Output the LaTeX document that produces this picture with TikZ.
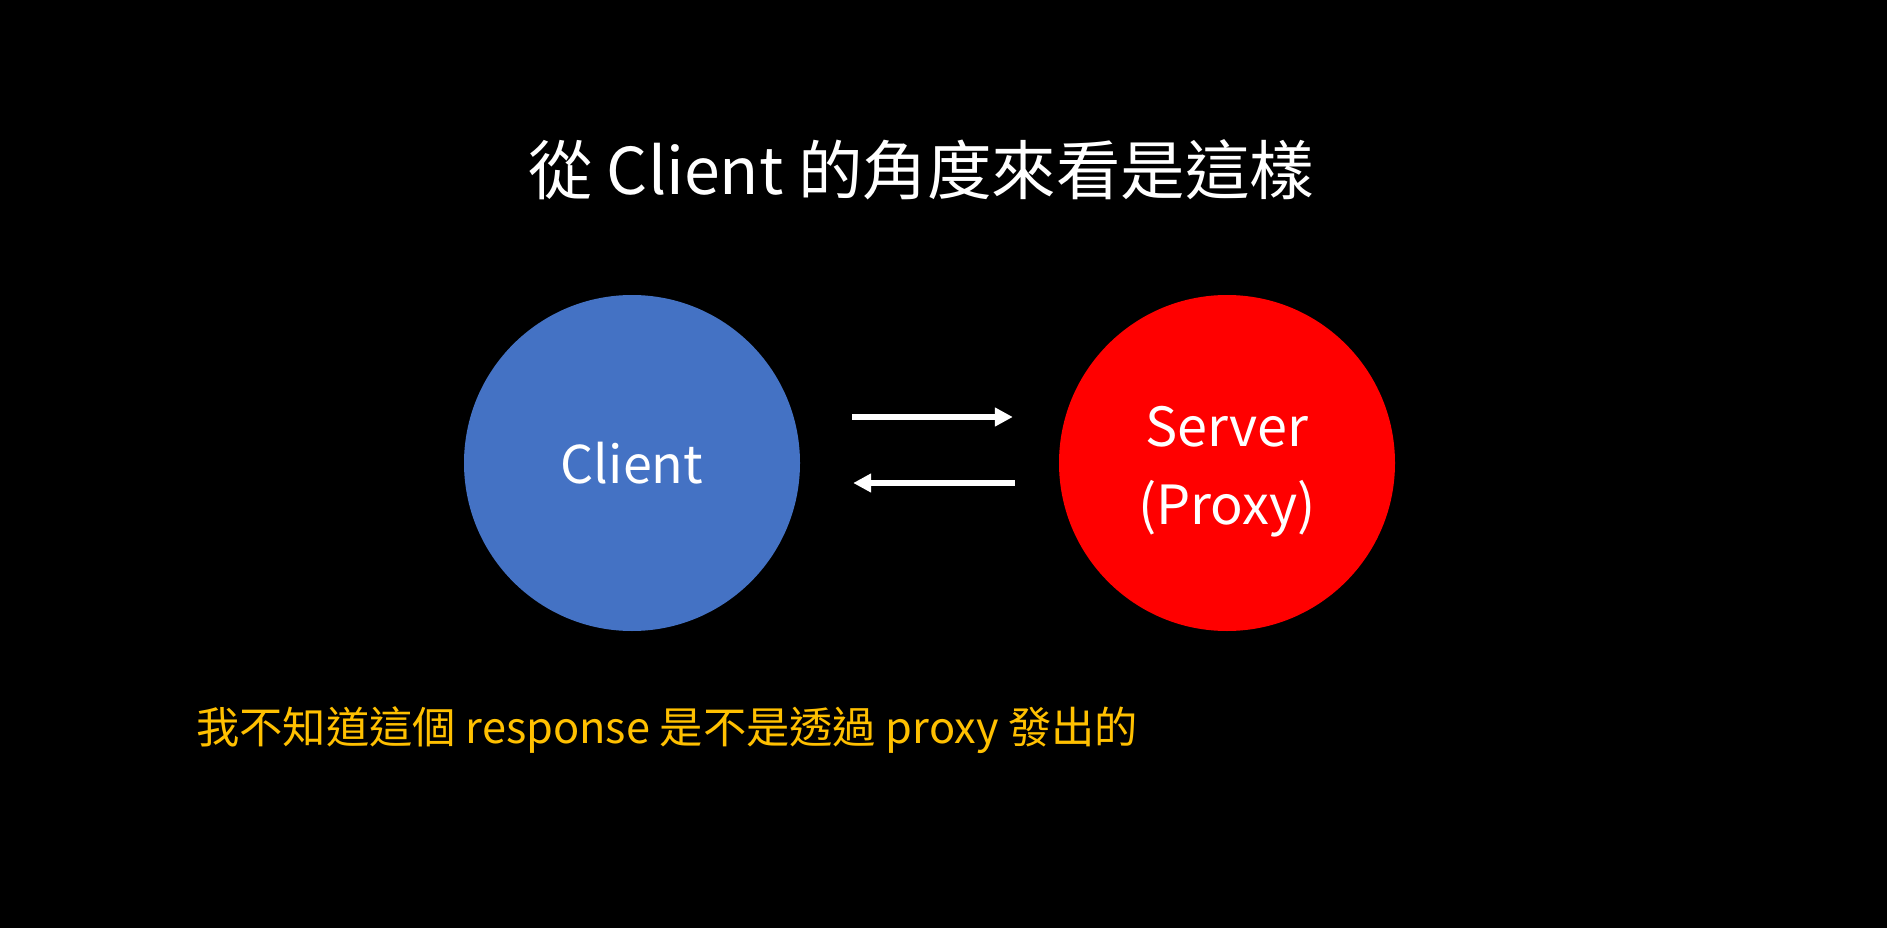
\documentclass[tikz,border=0pt]{standalone}
\usepackage{fontspec}
\setmainfont{Noto Sans CJK TC}
\usetikzlibrary{arrows.meta}
\definecolor{cblue}{HTML}{4472C4}
\definecolor{cred}{HTML}{FF0000}
\definecolor{cgold}{HTML}{FFC000}
\begin{document}
\begin{tikzpicture}[x=1pt,y=-1pt,
  ball/.style={circle,minimum size=336pt,inner sep=0pt,text=white,font=\fontsize{52}{78}\selectfont,align=center},
  arr/.style={draw=white,line width=6pt,-{Triangle[length=18pt,width=18pt]}}]
\fill[black] (0,0) rectangle (1887,928);
\useasboundingbox (0,0) rectangle (1887,928);
\node[text=white,font=\fontsize{64.5}{70}\selectfont] (title) at (921,170) {從 Client 的角度來看是這樣};
\node[ball,fill=cblue] (client) at (632,463) {Client};
\node[ball,fill=cred,label={[text=white,font=\fontsize{54}{78}\selectfont,align=center,yshift=-9pt]center:Server\\(Proxy)}] (server) at (1227,463) {};
\draw[arr] ([xshift=52pt,yshift=46pt]client.east) -- ([xshift=-46pt,yshift=46pt]server.west);
\draw[arr] ([xshift=-44pt,yshift=-20pt]server.west) -- ([xshift=53pt,yshift=-20pt]client.east);
\node[text=cgold,anchor=west,font=\fontsize{43.3}{50}\selectfont,inner sep=0pt] (note) at (196,730) {我不知道這個 response 是不是透過 proxy 發出的};
\end{tikzpicture}
\end{document}
